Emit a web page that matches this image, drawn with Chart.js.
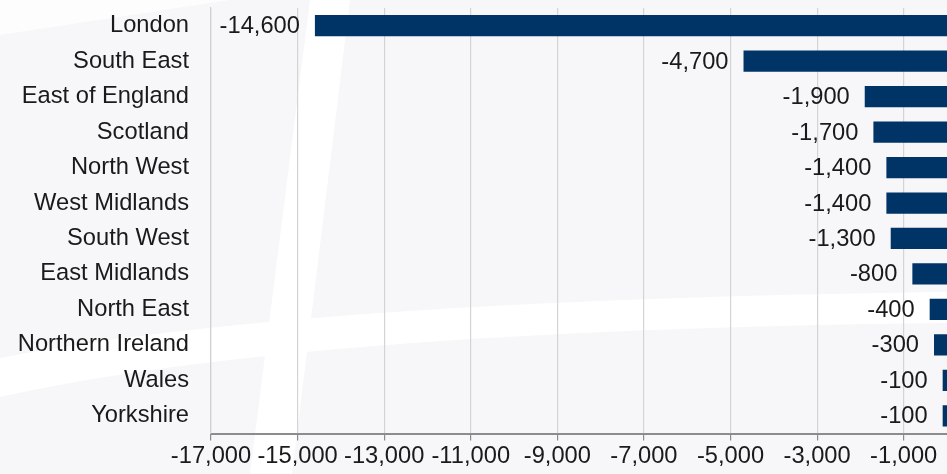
<!DOCTYPE html>
<html>
<head>
<meta charset="utf-8">
<script src="https://cdn.jsdelivr.net/npm/chart.js@4/dist/chart.umd.min.js"></script>
<style>
  html, body { margin: 0; padding: 0; background: #f7f7f9; overflow: hidden; }
  canvas { display: block; }
</style>
</head>
<body>
<canvas id="grafico" width="947" height="474"></canvas>
<script>
// Datos del gráfico
const regiones = ['London', 'South East', 'East of England', 'Scotland', 'North West', 'West Midlands',
  'South West', 'East Midlands', 'North East', 'Northern Ireland', 'Wales', 'Yorkshire'];
const cambios = [-14600, -4700, -1900, -1700, -1400, -1400, -1300, -800, -400, -300, -100, -100];
const ticksX = [-17000, -15000, -13000, -11000, -9000, -7000, -5000, -3000, -1000];

const fuente = { family: '"Liberation Sans", Arial, sans-serif', size: 23.7 };

function formato(v) {
    return v.toLocaleString('en-US');
}

// Fondo con la marca de agua blanca
const marcaAgua = {
    id: 'marcaAgua',
    beforeDraw(chart) {
        const ctx = chart.ctx;
        ctx.save();
        ctx.fillStyle = '#f7f7f9';
        ctx.fillRect(0, 0, chart.width, chart.height);
        ctx.fillStyle = '#ffffff';
        // franja casi vertical
        ctx.beginPath();
        ctx.moveTo(310, 0);
        ctx.lineTo(350, 0);
        ctx.lineTo(292, 474);
        ctx.lineTo(250, 474);
        ctx.closePath();
        ctx.fill();
        // franja horizontal curva
        ctx.beginPath();
        ctx.moveTo(0, 358);
        ctx.quadraticCurveTo(300, 300, 947, 292);
        ctx.lineTo(947, 323);
        ctx.quadraticCurveTo(300, 330, 0, 397);
        ctx.closePath();
        ctx.fill();
        // esquina superior izquierda
        ctx.globalAlpha = 0.7;
        ctx.beginPath();
        ctx.moveTo(0, 0);
        ctx.lineTo(230, 0);
        ctx.lineTo(0, 35);
        ctx.closePath();
        ctx.fill();
        ctx.restore();
    }
};

// Etiquetas de valor a la izquierda de cada barra
const etiquetas = {
    id: 'etiquetas',
    afterDatasetsDraw(chart) {
        const ctx = chart.ctx;
        const meta = chart.getDatasetMeta(0);
        ctx.save();
        ctx.font = fuente.size + 'px ' + fuente.family;
        ctx.fillStyle = '#1a1a1a';
        ctx.textAlign = 'right';
        ctx.textBaseline = 'middle';
        meta.data.forEach((barra, i) => {
            ctx.fillText(formato(cambios[i]), barra.x - 15, barra.y + 1);
        });
        ctx.restore();
    }
};

const ctx = document.getElementById('grafico').getContext('2d');
window.myChart = new Chart(ctx, {
    type: 'bar',
    data: {
        labels: regiones,
        datasets: [{
            data: cambios,
            backgroundColor: '#003366',
            borderWidth: 0,
            barPercentage: 0.6,
            categoryPercentage: 1
        }]
    },
    options: {
        indexAxis: 'y',
        responsive: false,
        devicePixelRatio: 1,
        animation: false,
        layout: { padding: { top: 8, left: 0, right: 0, bottom: 0 } },
        plugins: {
            legend: { display: false },
            tooltip: { enabled: false }
        },
        scales: {
            x: {
                type: 'linear',
                min: -17000,
                max: 0,
                afterBuildTicks: (scale) => {
                    scale.ticks = ticksX.map(v => ({ value: v }));
                },
                afterFit: (scale) => { scale.height = 40.5; },
                grid: {
                    color: '#d4d4d4',
                    tickColor: '#8c8c8c',
                    tickLength: 7,
                    lineWidth: 1.2
                },
                border: { color: '#8c8c8c', width: 2 },
                ticks: {
                    font: fuente,
                    color: '#1a1a1a',
                    padding: 2,
                    maxRotation: 0,
                    autoSkip: false,
                    callback: (v) => formato(v)
                }
            },
            y: {
                grid: { display: false, drawTicks: false },
                border: { color: '#d0d0d0', width: 1.2 },
                afterFit: (scale) => {
                    scale.width = 211;
                    scale.paddingTop = 0;
                    scale.paddingBottom = 0;
                },
                ticks: {
                    font: fuente,
                    color: '#1a1a1a',
                    padding: 22
                }
            }
        }
    },
    plugins: [marcaAgua, etiquetas]
});
</script>
</body>
</html>
